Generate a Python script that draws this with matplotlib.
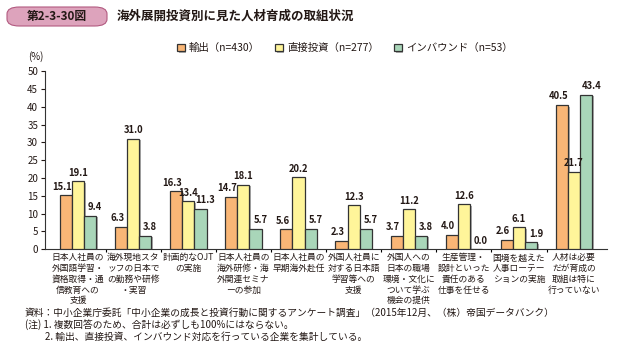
import matplotlib.pyplot as plt
import matplotlib.patheffects as pe
from matplotlib.patches import FancyBboxPatch
import numpy as np

plt.rcParams['font.family'] = ['Noto Sans CJK JP', 'DejaVu Sans']

# Data
categories = [
    '日本人社員の\n外国語学習・\n資格取得・通\n信教育への\n支援',
    '海外現地スタ\nッフの日本で\nの勤務や研修\n・実習',
    '計画的なOJT\nの実施',
    '日本人社員の\n海外研修・海\n外関連セミナ\nーの参加',
    '日本人社員の\n早期海外赴任',
    '外国人社員に\n対する日本語\n学習等への\n支援',
    '外国人への\n日本の職場\n環境・文化に\nついて学ぶ\n機会の提供',
    '生産管理・\n設計といった\n責任のある\n仕事を任せる',
    '国境を越えた\n人事ローテー\nションの実施',
    '人材は必要\nだが育成の\n取組は特に\n行っていない',
]
series_names = ['輸出（n=430）', '直接投資（n=277）', 'インバウンド（n=53）']
export_vals = [15.1, 6.3, 16.3, 14.7, 5.6, 2.3, 3.7, 4.0, 2.6, 40.5]
direct_vals = [19.1, 31.0, 13.4, 18.1, 20.2, 12.3, 11.2, 12.6, 6.1, 21.7]
inbound_vals = [9.4, 3.8, 11.3, 5.7, 5.7, 5.7, 3.8, 0.0, 1.9, 43.4]

colors = ['#F9B676', '#FFF59A', '#A9D6B9']
text_color = '#231815'

fig = plt.figure(figsize=(6.17, 3.47), dpi=100)
ax = fig.add_axes([0.073, 0.282, 0.911, 0.513])

x = np.arange(len(categories))
w = 0.22
shadow = [pe.SimplePatchShadow(offset=(1.2, -1.2), shadow_rgbFace='#999999', alpha=0.8), pe.Normal()]
label_dx = [-0.07, 0, 0.09]
for i, vals in enumerate([export_vals, direct_vals, inbound_vals]):
    pos = x + (i - 1) * w
    bars = ax.bar(pos, vals, width=w, color=colors[i], edgecolor='#333333',
                  linewidth=0.9, label=series_names[i], zorder=3)
    for b in bars:
        b.set_path_effects(shadow)
    for p, v in zip(pos, vals):
        ax.text(p + label_dx[i], v + 1.0, f'{v:.1f}', ha='center', va='bottom',
                fontsize=6.8, fontweight='bold', color=text_color, zorder=4)

ax.set_xlim(-0.6, len(categories) - 0.4)
ax.set_ylim(0, 50)
ax.set_yticks(np.arange(0, 51, 5))
ax.tick_params(axis='y', labelsize=7, length=3, width=0.8, colors=text_color, pad=2)
ax.set_xticks(x)
ax.set_xticklabels(categories, fontsize=6.3, color=text_color, linespacing=1.25)
ax.tick_params(axis='x', length=0, pad=3)
ax.set_xticks(np.arange(0.5, len(categories) - 1, 1), minor=True)
ax.tick_params(axis='x', which='minor', length=2, width=0.8, direction='out')
for s in ['top', 'right']:
    ax.spines[s].set_visible(False)
for s in ['left', 'bottom']:
    ax.spines[s].set_color('#333333')
    ax.spines[s].set_linewidth(0.8)

fig.text(28 / 617, 1 - 57 / 347, '(%)', fontsize=7, color=text_color, va='center')

leg = fig.legend(loc='center left', bbox_to_anchor=(168 / 617, 1 - 48 / 347), ncol=3,
                 frameon=False, fontsize=7.5, handlelength=0.7, handleheight=0.7,
                 handletextpad=0.4, columnspacing=1.5)
for t in leg.get_texts():
    t.set_color(text_color)

# title band
box = FancyBboxPatch((7 / 617, 1 - 26 / 347), 100 / 617, 19 / 347,
                     boxstyle='round,pad=0,rounding_size=0.02', transform=fig.transFigure,
                     facecolor='#DDA3BC', edgecolor='#B25A80', linewidth=0.8)
fig.patches.append(box)
fig.text(57 / 617, 1 - 16.5 / 347, '第2-3-30図', fontsize=8.5, fontweight='bold',
         ha='center', va='center', color=text_color)
fig.text(117 / 617, 1 - 16.5 / 347, '海外展開投資別に見た人材育成の取組状況', fontsize=9,
         fontweight='bold', va='center', color=text_color)

notes = [
    (25, 313, '資料：中小企業庁委託「中小企業の成長と投資行動に関するアンケート調査」（2015年12月、（株）帝国データバンク）'),
    (25, 325, '(注) 1. 複数回答のため、合計は必ずしも100%にはならない。'),
    (45, 337, '2. 輸出、直接投資、インバウンド対応を行っている企業を集計している。'),
]
for nx, ny, t in notes:
    fig.text(nx / 617, 1 - ny / 347, t, fontsize=7, va='center', color=text_color)

fig.savefig('out.png', dpi=100)
